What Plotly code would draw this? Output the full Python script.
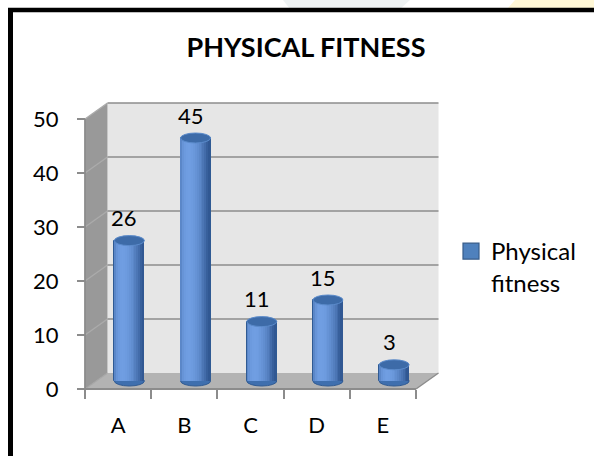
import math
import plotly.graph_objects as go

# ---- data -------------------------------------------------------------
categories = ["A", "B", "C", "D", "E"]
values = [26, 45, 11, 15, 3]
series_name = "Physical<br>fitness"
y_ticks = [0, 10, 20, 30, 40, 50]
chart_title = "PHYSICAL FITNESS"

# ---- page / box geometry (pixels) -------------------------------------
W_PX, H_PX = 594, 456
FRONT_LEFT, FRONT_RIGHT = 85, 416      # front edge of the floor
FRONT_ZERO, FRONT_TOP = 389, 119       # front axis: y=0 and y=max tick
PLOT_L, PLOT_R, PLOT_T, PLOT_B = 60, 470, 92, 400
DEPTH_X_PX, DEPTH_Y_PX = 22.5, 16      # offset of the back wall
BAR_W_PX, CAP_PX = 30, 5

n = len(categories)
positions = list(range(n))
px_per_cat = (FRONT_RIGHT - FRONT_LEFT) / n
px_per_unit = (FRONT_ZERO - FRONT_TOP) / y_ticks[-1]

x_lo = -0.5 - (FRONT_LEFT - PLOT_L) / px_per_cat
x_hi = n - 0.5 + (PLOT_R - FRONT_RIGHT) / px_per_cat
y_lo = -(PLOT_B - FRONT_ZERO) / px_per_unit
y_hi = y_ticks[-1] + (FRONT_TOP - PLOT_T) / px_per_unit

DX = DEPTH_X_PX / px_per_cat
DY = DEPTH_Y_PX / px_per_unit
BAR_W = BAR_W_PX / px_per_cat
CAP = CAP_PX / px_per_unit
BASE = DY / 2                     # bars stand in the middle of the floor
XL, XR = -0.5, n - 0.5
YMAX = y_ticks[-1]


def px_x(px):
    return (px - PLOT_L) / (PLOT_R - PLOT_L)


def px_y(py):
    return (PLOT_B - py) / (PLOT_B - PLOT_T)


def poly(points):
    return "M" + " L".join(f"{x},{y}" for x, y in points) + " Z"


shapes = []

# page decoration: faint watermark pieces and the black chart frame
shapes.append(dict(type="path", xref="paper", yref="paper", layer="below",
                   path=poly([(px_x(515), px_y(0)), (px_x(600), px_y(0)),
                              (px_x(600), px_y(8)), (px_x(508), px_y(8))]),
                   fillcolor="#fff7d6", line=dict(width=0)))
shapes.append(dict(type="path", xref="paper", yref="paper", layer="below",
                   path=poly([(px_x(283), px_y(0)), (px_x(410), px_y(0)),
                              (px_x(400), px_y(9)), (px_x(290), px_y(9))]),
                   fillcolor="#eef2f3", line=dict(width=0)))
shapes.append(dict(type="line", xref="paper", yref="paper",
                   x0=px_x(8), x1=px_x(600), y0=px_y(10), y1=px_y(10),
                   line=dict(color="black", width=4.5)))
shapes.append(dict(type="line", xref="paper", yref="paper",
                   x0=px_x(10.5), x1=px_x(10.5), y0=px_y(8), y1=px_y(460),
                   line=dict(color="black", width=5)))

# back wall
shapes.append(dict(type="rect", xref="x", yref="y", layer="below",
                   x0=XL + DX, x1=XR + DX, y0=DY, y1=YMAX + DY,
                   fillcolor="#e6e6e6", line=dict(width=0)))
# left side wall
shapes.append(dict(type="path", xref="x", yref="y", layer="below",
                   path=poly([(XL, 0), (XL, YMAX), (XL + DX, YMAX + DY), (XL + DX, DY)]),
                   fillcolor="#999999", line=dict(width=0)))
# floor
shapes.append(dict(type="path", xref="x", yref="y", layer="below",
                   path=poly([(XL, 0), (XR, 0), (XR + DX, DY), (XL + DX, DY)]),
                   fillcolor="#b3b3b3", line=dict(width=0)))

# gridlines on the back wall and their slanted continuation on the side wall
for v in y_ticks[1:]:
    shapes.append(dict(type="line", xref="x", yref="y", layer="below",
                       x0=XL + DX, x1=XR + DX, y0=v + DY, y1=v + DY,
                       line=dict(color="#8c8c8c", width=1.6)))
    shapes.append(dict(type="line", xref="x", yref="y", layer="below",
                       x0=XL, x1=XL + DX, y0=v, y1=v + DY,
                       line=dict(color="#ababab", width=1.4)))
# floor edges
shapes.append(dict(type="line", xref="x", yref="y", layer="below",
                   x0=XL, x1=XL + DX, y0=0, y1=DY,
                   line=dict(color="#a6a6a6", width=1.2)))
shapes.append(dict(type="line", xref="x", yref="y", layer="below",
                   x0=XR, x1=XR + DX, y0=0, y1=DY,
                   line=dict(color="#8c8c8c", width=1.4)))
# front axis lines
shapes.append(dict(type="line", xref="x", yref="y", layer="below",
                   x0=XL, x1=XR, y0=0, y1=0,
                   line=dict(color="#8c8c8c", width=1.8)))
shapes.append(dict(type="line", xref="x", yref="y", layer="below",
                   x0=XL, x1=XL, y0=0, y1=YMAX,
                   line=dict(color="#8c8c8c", width=1.8)))

# rounded bottoms of the cylinders
for p in positions:
    c = p + DX / 2
    shapes.append(dict(type="circle", xref="x", yref="y", layer="below",
                       x0=c - BAR_W / 2, x1=c + BAR_W / 2,
                       y0=BASE - CAP, y1=BASE + CAP,
                       fillcolor="#3f6fae", line=dict(color="#2f5a93", width=1)))
# elliptical tops of the cylinders
for p, v in zip(positions, values):
    c = p + DX / 2
    top = BASE + v
    shapes.append(dict(type="circle", xref="x", yref="y", layer="above",
                       x0=c - BAR_W / 2, x1=c + BAR_W / 2,
                       y0=top - CAP, y1=top + CAP,
                       fillcolor="#3d6ba8", line=dict(color="#5b8bcb", width=1)))

fig = go.Figure()

# cylinder body outline
fig.add_trace(go.Bar(
    x=positions, y=values, base=BASE, width=BAR_W, offset=DX / 2 - BAR_W / 2,
    marker=dict(color="#4a7bbd", line=dict(color="#2f5a93", width=1)),
    showlegend=False, hoverinfo="skip"))

# cylinder shading: thin vertical bands lit from the front-left
N_STRIPS = 16
dark = (40, 78, 136)
light = (112, 158, 226)
strip_w = (BAR_W - 0.012) / N_STRIPS
for k in range(N_STRIPS):
    t = (k + 0.5) / N_STRIPS
    theta = math.asin(2 * t - 1)
    d = max(0.0, math.cos(theta + 0.45))
    f = 0.12 + 0.88 * d ** 1.2
    col = "rgb(%d,%d,%d)" % tuple(round(a + (b - a) * f) for a, b in zip(dark, light))
    fig.add_trace(go.Bar(
        x=positions, y=values, base=BASE, width=strip_w,
        offset=DX / 2 - BAR_W / 2 + 0.006 + k * strip_w,
        marker=dict(color=col, line=dict(width=0)),
        showlegend=False, hoverinfo="skip"))

# legend entry for the series
fig.add_trace(go.Scatter(
    x=[None], y=[None], mode="markers", name=series_name,
    marker=dict(symbol="square", size=16, color="#4f81bd",
                line=dict(color="#385d8a", width=1.2))))

# value labels above each cylinder
for p, v in zip(positions, values):
    fig.add_annotation(x=p + DX / 2, y=BASE + v, text=str(v), showarrow=False,
                       xshift=-5, yshift=23, yanchor="middle",
                       font=dict(family="Lato", size=22, color="black"))

fig.update_layout(
    width=W_PX, height=H_PX,
    margin=dict(l=PLOT_L, r=W_PX - PLOT_R, t=PLOT_T, b=H_PX - PLOT_B, pad=0,
                autoexpand=False),
    paper_bgcolor="white", plot_bgcolor="rgba(0,0,0,0)",
    barmode="overlay", bargap=0,
    font=dict(family="Lato", size=22, color="black"),
    title=dict(text="<b>" + chart_title + "</b>", x=306 / W_PX, xanchor="center",
               xref="container", y=1 - 48 / H_PX, yanchor="middle", yref="container",
               font=dict(family="Lato", size=27, color="black")),
    shapes=shapes,
    showlegend=True,
    legend=dict(xref="container", yref="container", x=451 / W_PX, y=1 - 229 / H_PX,
                xanchor="left", yanchor="top", valign="top",
                bgcolor="rgba(0,0,0,0)", borderwidth=0, itemwidth=30,
                font=dict(family="Lato", size=24, color="black")),
    xaxis=dict(range=[x_lo, x_hi], showgrid=False, zeroline=False, showline=False,
               tickmode="array", tickvals=positions, ticktext=categories,
               ticks="outside", ticklen=9, tickcolor="rgba(0,0,0,0)",
               ticklabelstandoff=8,
               minor=dict(tickmode="array", tickvals=[p - 0.5 for p in positions] + [n - 0.5],
                          ticks="outside", ticklen=9, tickwidth=1.6, tickcolor="#8c8c8c"),
               anchor="free", position=px_y(FRONT_ZERO), fixedrange=True),
    yaxis=dict(range=[y_lo, y_hi], showgrid=False, zeroline=False, showline=False,
               tickmode="array", tickvals=y_ticks, ticktext=[str(t) for t in y_ticks],
               ticks="outside", ticklen=8, tickwidth=1.6, tickcolor="#8c8c8c",
               ticklabelstandoff=14,
               anchor="free", position=px_x(FRONT_LEFT), fixedrange=True),
)

fig.write_html("out.html")
